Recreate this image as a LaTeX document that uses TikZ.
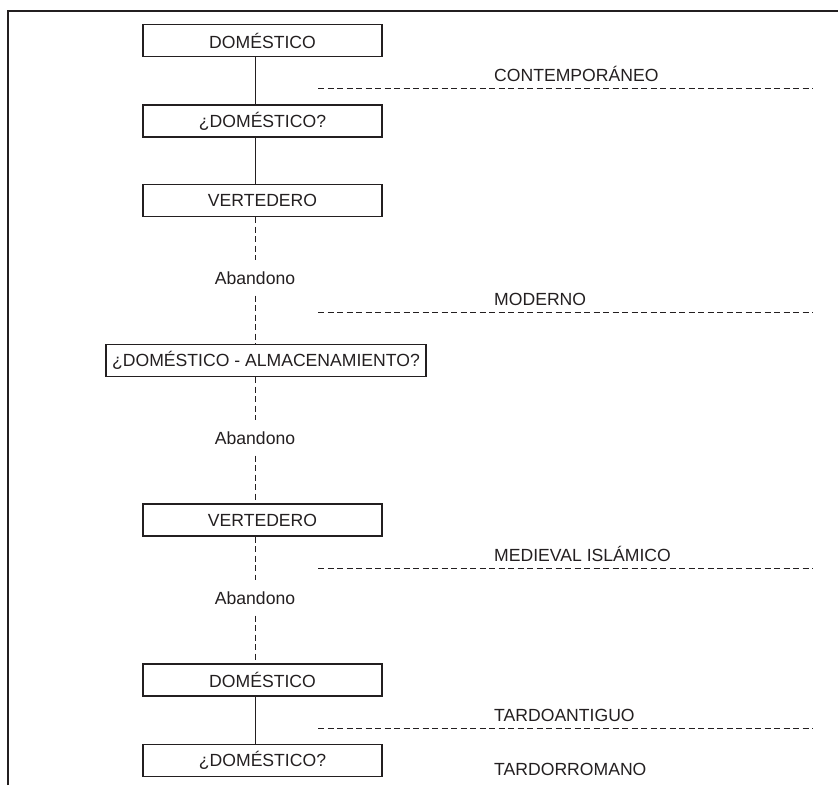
\documentclass[tikz,border=0pt]{standalone}
\usepackage{fontspec}
\setmainfont{Liberation Sans}
\definecolor{inkgray}{HTML}{231F20}

\begin{document}
\begin{tikzpicture}[x=1pt, y=-1pt, inkgray,
    stagebox/.style={draw, line width=1.1pt, minimum width=239pt, minimum height=32pt, inner sep=0pt, font=\fontsize{17.6}{20}\selectfont},
    abandono/.style={inner xsep=2pt, inner ysep=11pt, font=\fontsize{17.6}{20}\selectfont},
    periodo/.style={anchor=base west, inner sep=0pt, font=\fontsize{17.6}{20}\selectfont},
    link/.style={line width=1pt},
    gap/.style={line width=1pt, dash pattern=on 6pt off 3.5pt}]

	\useasboundingbox (0,0) rectangle (838,785);
	% outer frame, open at the bottom and on the right
	\draw[line width=2.2pt] (8,785) -- (8,11) -- (838,11);

	% the sequence of uses
	\coordinate (spine) at (255,0);
	\node[stagebox] (dom1) at (262.5,40.5) {DOMÉSTICO};
	\node[stagebox] (dom2) at (262.5,121) {¿DOMÉSTICO?};
	\node[stagebox] (vert1) at (262.5,200.5) {VERTEDERO};
	\node[abandono] (ab1) at (255,278) {Abandono};
	\node[stagebox, minimum width=320pt] (alm) at (266,360.5) {¿DOMÉSTICO - ALMACENAMIENTO?};
	\node[abandono] (ab2) at (255,438) {Abandono};
	\node[stagebox] (vert2) at (262.5,520) {VERTEDERO};
	\node[abandono] (ab3) at (255,598) {Abandono};
	\node[stagebox] (dom3) at (262.5,680) {DOMÉSTICO};
	\node[stagebox] (dom4) at (262.5,760.5) {¿DOMÉSTICO?};

	% continuity (solid) and abandonment (dashed)
	\draw[link] (dom1.south -| spine) -- (dom2.north -| spine);
	\draw[link] (dom2.south -| spine) -- (vert1.north -| spine);
	\draw[gap] (vert1.south -| spine) -- (ab1.north);
	\draw[gap] (ab1.south) -- (alm.north -| spine);
	\draw[gap] (alm.south -| spine) -- (ab2.north);
	\draw[gap] (ab2.south) -- (vert2.north -| spine);
	\draw[gap] (vert2.south -| spine) -- (ab3.north);
	\draw[gap] (ab3.south) -- (dom3.north -| spine);
	\draw[link] (dom3.south -| spine) -- (dom4.north -| spine);

	% periods
	\node[periodo] (contemp) at (494,81) {CONTEMPORÁNEO};
	\node[periodo] (moderno) at (494,305) {MODERNO};
	\node[periodo] (medieval) at (494,561) {MEDIEVAL ISLÁMICO};
	\node[periodo] (tardoant) at (494,721) {TARDOANTIGUO};
	\node[periodo] (tardorom) at (494,775) {TARDORROMANO};

	\foreach \y in {88,312,568,728}
		\draw[gap] (318,\y) -- (813,\y);

\end{tikzpicture}
\end{document}
